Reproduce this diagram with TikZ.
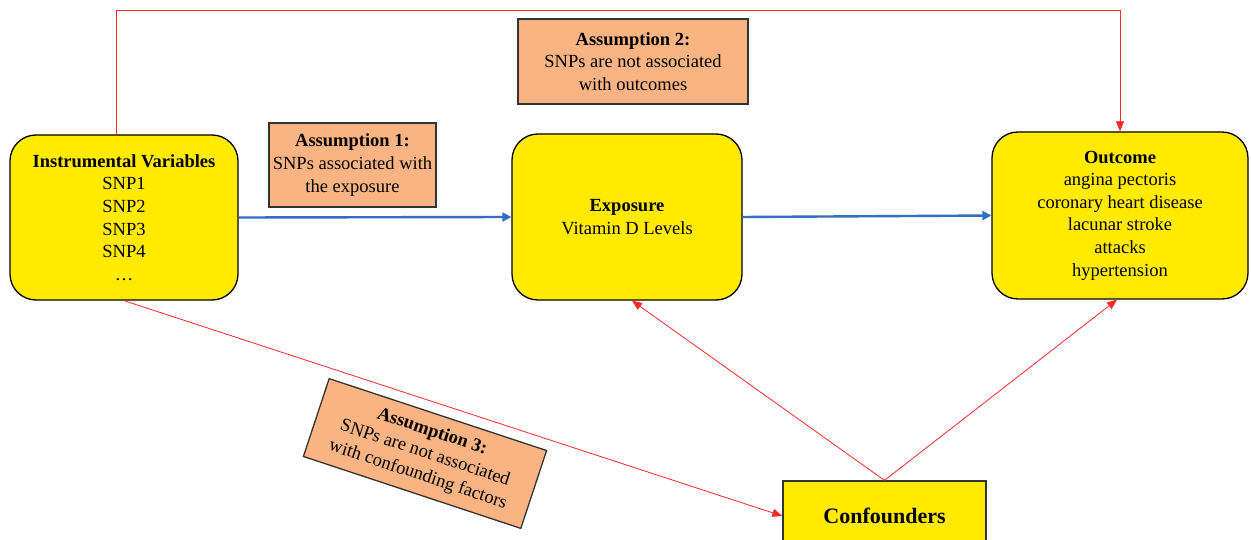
\documentclass[tikz,border=0pt]{standalone}
\usepackage{fontspec}
\setmainfont{Liberation Serif}
\usetikzlibrary{arrows.meta,calc}
\definecolor{boxyellow}{RGB}{255,234,0}
\definecolor{peach}{RGB}{250,180,132}
\definecolor{arrblue}{RGB}{52,110,196}
\definecolor{lred}{RGB}{255,40,40}
\tikzset{
  ybox/.style={draw=black, line width=1.3pt, fill=boxyellow, rounded corners=26pt, align=center, inner sep=0pt,
    font=\fontsize{18.5}{22.6}\selectfont},
  abox/.style={draw=black!80, line width=1.3pt, fill=peach, align=center, inner sep=0pt,
    font=\fontsize{18.5}{22.6}\selectfont},
  bluearr/.style={draw=arrblue, line width=2.4pt, -{Triangle[length=9pt,width=9pt]}},
  redarr/.style={draw=lred, line width=0.8pt, -{Triangle[length=10pt,width=8pt]}}
}
\begin{document}
\begin{tikzpicture}[x=1pt,y=-1pt]
\useasboundingbox (0,0) rectangle (1251,540);
\fill[white] (0,0) rectangle (1251,540);
\node[ybox, minimum width=228pt, minimum height=165pt] (iv) at (124,217.5)
  {\textbf{Instrumental Variables}\\SNP1\\SNP2\\SNP3\\SNP4\\\dots};
\node[ybox, minimum width=230pt, minimum height=166pt] (exp) at (627,217)
  {\textbf{Exposure}\\Vitamin D Levels};
\node[ybox, minimum width=256pt, minimum height=167pt] (out) at (1120,215.5)
  {\textbf{Outcome}\\angina pectoris\\coronary heart disease\\lacunar stroke\\attacks\\hypertension};
\node[draw=black!80, line width=1.3pt, fill=boxyellow, minimum width=203pt, minimum height=70pt, inner sep=0pt,
  font=\fontsize{22}{26}\selectfont\bfseries] (conf) at (884.5,516) {Confounders};
\node[abox, minimum width=167pt, minimum height=84pt] (a1) at (352.5,165) {\textbf{Assumption 1:}\\SNPs associated with\\the exposure};
\node[abox, minimum width=230pt, minimum height=85pt] (a2) at (633,61.5) {\textbf{Assumption 2:}\\SNPs are not associated\\with outcomes};
\node[abox, minimum width=229pt, minimum height=82pt, rotate=-18.3] (a3) at (425,453.5) {\textbf{Assumption 3:}\\SNPs are not associated\\with confounding factors};
% connectors
\coordinate (ivtop) at ($(iv.north)+(-8,0)$);
\draw[redarr] (ivtop) -- ++(0,-124) -| (out.north);
\draw[bluearr] (iv.east) -- (exp.west);
\draw[bluearr] (exp.east) -- (out.west);
\draw[redarr] (iv.south) -- (conf.west);
\draw[redarr] (conf.north) -- ($(exp.south)+(5,0)$);
\draw[redarr] (conf.north) -- ($(out.south)+(-3,0)$);
\end{tikzpicture}
\end{document}
